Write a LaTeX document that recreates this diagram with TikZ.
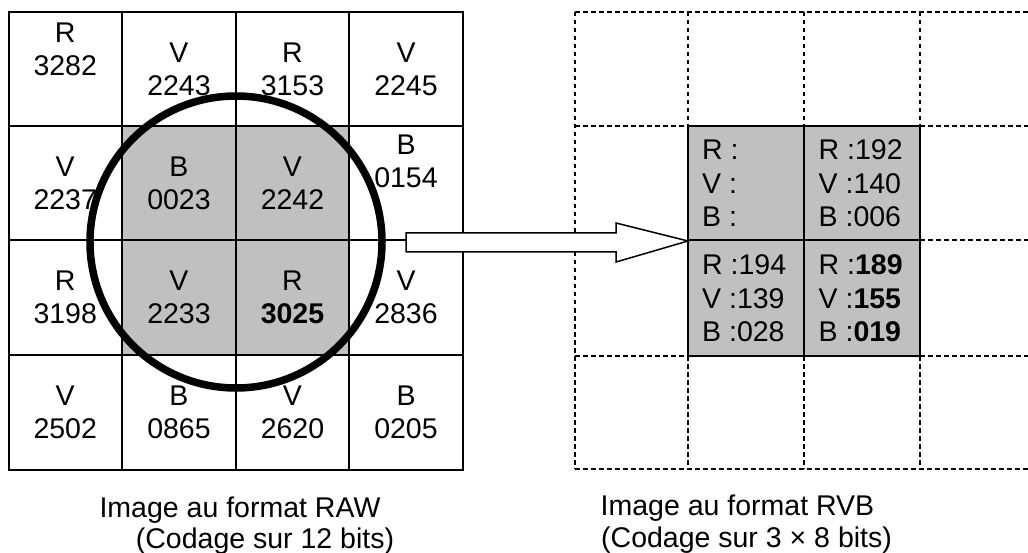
\documentclass[tikz,border=0pt]{standalone}
\usepackage{fontspec}
\setmainfont{Liberation Sans}
\definecolor{cellgray}{HTML}{C0C0C0}
\tikzset{
  gridline/.style={line width=2pt},
  dashline/.style={line width=2pt, dash pattern=on 4.5pt off 3.5pt},
  rawtxt/.style={align=center, inner sep=0pt, font=\fontsize{28.5}{33}\selectfont},
  rvbtxt/.style={align=left, anchor=west, inner sep=0pt, font=\fontsize{28.5}{33.5}\selectfont},
  captxt/.style={inner sep=0pt, font=\fontsize{28.5}{33}\selectfont},
  lens/.style={circle, draw, line width=7.5pt, minimum size=292pt, inner sep=0pt},
  bigarrow/.style={draw, fill=white, line width=1.5pt, line join=miter},
}
\begin{document}
\begin{tikzpicture}[x=1pt,y=-1pt]
\useasboundingbox (0,0) rectangle (1028,553);
% ---------- RAW grid ----------
\fill[cellgray] (122,126) rectangle (349,355);
\draw[gridline] (8.5,12) rectangle (463,470);
\foreach \x in {122,236,349} \draw[gridline] (\x,12) -- (\x,470);
\foreach \y in {126,240,355} \draw[gridline] (8.5,\y) -- (463,\y);
% row 1
\node[rawtxt] (r11) at (65.25,49.5) {R\\3282};
\node[rawtxt] (r12) at (179,69) {V\\2243};
\node[rawtxt] (r13) at (292.5,69) {R\\3153};
\node[rawtxt] (r14) at (406,69) {V\\2245};
% row 2
\node[rawtxt] (r21) at (65.25,183) {V\\2237};
\node[rawtxt] (r22) at (179,183) {B\\0023};
\node[rawtxt] (r23) at (292.5,183) {V\\2242};
\node[rawtxt] (r24) at (406,161) {B\\0154};
% row 3
\node[rawtxt] (r31) at (65.25,297.5) {R\\3198};
\node[rawtxt] (r32) at (179,297.5) {V\\2233};
\node[rawtxt] (r33) at (292.5,297.5) {R\\\textbf{3025}};
\node[rawtxt] (r34) at (406,297.5) {V\\2836};
% row 4
\node[rawtxt] (r41) at (65.25,412.5) {V\\2502};
\node[rawtxt] (r42) at (179,412.5) {B\\0865};
\node[rawtxt] (r43) at (292.5,412.5) {V\\2620};
\node[rawtxt] (r44) at (406,412.5) {B\\0205};
% circle
\node[lens] (circ) at (236,242) {};
% ---------- RVB grid ----------
\draw[dashline] (575,12) -- (1028,12);
\draw[dashline] (575,469) -- (1028,469);
\draw[dashline] (575,12) -- (575,469);
\foreach \y in {126,240,356} {
  \draw[dashline] (575,\y) -- (688,\y);
  \draw[dashline] (920,\y) -- (1028,\y);
}
\foreach \x in {688,804,920} {
  \draw[dashline] (\x,12) -- (\x,126);
  \draw[dashline] (\x,356) -- (\x,469);
}
\fill[cellgray] (688,126) rectangle (920,356);
\draw[gridline] (688,126) rectangle (920,356);
\draw[gridline] (804,126) -- (804,356);
\draw[gridline] (688,240) -- (920,240);
\node[rvbtxt] (v22) at (702,183.5) {R :\\V :\\B :};
\node[rvbtxt] (v23) at (818.5,183.5) {R :192\\V :140\\B :006};
\node[rvbtxt] (v32) at (702,298.3) {R :194\\V :139\\B :028};
\node[rvbtxt] (v33) at (818.5,298.3) {R :\textbf{189}\\V :\textbf{155}\\B :\textbf{019}};
% ---------- arrow ----------
\coordinate (atail) at (406,242.5);
\coordinate (atip) at (688,241);
\draw[bigarrow] (atail) ++(0,-9.5) -- (616,233) -- (616,223) -- (atip) -- (616,262) -- (616,252) -- (406,252) -- cycle;
% ---------- captions ----------
\node[captxt, anchor=base] (cap1) at (240,517) {Image au format RAW};
\node[captxt, anchor=base] (cap2) at (265,548) {(Codage sur 12 bits)};
\node[captxt, anchor=base west] (cap3) at (600.5,515) {Image au format RVB};
\node[captxt, anchor=base west] (cap4) at (601,547) {(Codage sur 3 × 8 bits)};
\end{tikzpicture}
\end{document}
